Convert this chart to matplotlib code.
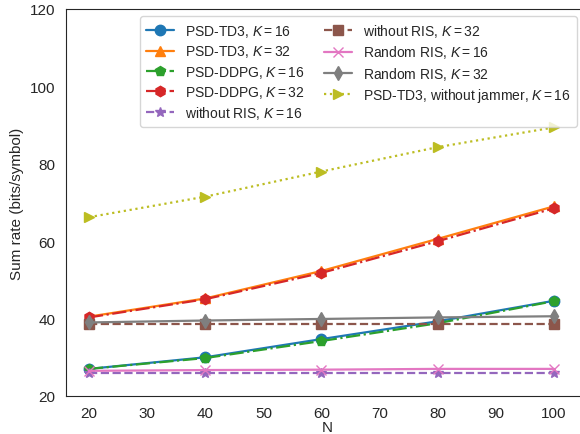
import matplotlib.pyplot as plt
import seaborn as sns

N = [20, 40, 60, 80, 100]

td3_k16 = [27.0, 30.0, 34.7, 39.3, 44.6]
td3_k32 = [40.5, 45.2, 52.3, 60.6, 69.0]
ddpg_k16 = [27.0, 29.8, 34.2, 38.8, 44.5]
ddpg_k32 = [40.3, 45.0, 51.8, 60.0, 68.5]
no_ris_k16 = [25.9, 25.9, 25.9, 25.9, 25.9]
no_ris_k32 = [38.6, 38.6, 38.6, 38.6, 38.6]
rand_ris_k16 = [26.5, 26.7, 26.8, 27.0, 27.0]
rand_ris_k32 = [39.0, 39.5, 39.9, 40.3, 40.6]
td3_no_jammer = [66.2, 71.5, 78.0, 84.3, 89.4]

sns.set_style("white")
plt.rcParams["font.family"] = ["Liberation Sans", "DejaVu Sans"]
plt.rcParams["mathtext.fontset"] = "custom"
plt.rcParams["mathtext.it"] = "Liberation Sans:italic"
plt.rcParams["mathtext.rm"] = "Liberation Sans"

fig = plt.figure(figsize=(5.8, 4.35), dpi=100)
ax = fig.add_axes([0.1133, 0.0874, 0.902, 0.8897])

series = [
    (td3_k16, "PSD-TD3, $K=16$", "tab:blue", "-", "o"),
    (td3_k32, "PSD-TD3, $K=32$", "tab:orange", "-", "^"),
    (ddpg_k16, "PSD-DDPG, $K=16$", "tab:green", "-.", "p"),
    (ddpg_k32, "PSD-DDPG, $K=32$", "tab:red", "-.", "h"),
    (no_ris_k16, "without RIS, $K=16$", "tab:purple", "--", "*"),
    (no_ris_k32, "without RIS, $K=32$", "tab:brown", "--", "s"),
    (rand_ris_k16, "Random RIS, $K=16$", "tab:pink", "-", "x"),
    (rand_ris_k32, "Random RIS, $K=32$", "tab:gray", "-", "d"),
    (td3_no_jammer, "PSD-TD3, without jammer, $K=16$", "tab:olive", ":", ">"),
]

for values, label, color, ls, marker in series:
    ax.plot(N, values, color=color, linestyle=ls, marker=marker,
            markersize=7.5, linewidth=1.6, label=label)

ax.set_xlim(16, 106)
ax.set_ylim(20, 120)
ax.set_xticks(range(20, 101, 10))
ax.set_yticks(range(20, 121, 20))
ax.tick_params(labelsize=11, pad=4)
ax.set_xlabel("N", fontsize=11, labelpad=0)
ax.set_ylabel("Sum rate (bits/symbol)", fontsize=11)

ax.legend(ncol=2, fontsize=10, loc="upper right",
          bbox_to_anchor=(577 / 580, 1 - 17 / 435),
          bbox_transform=fig.transFigure, handlelength=2,
          labelspacing=0.3, columnspacing=1.4, borderaxespad=0,
          borderpad=0.45)

fig.savefig("out.png", dpi=100)
